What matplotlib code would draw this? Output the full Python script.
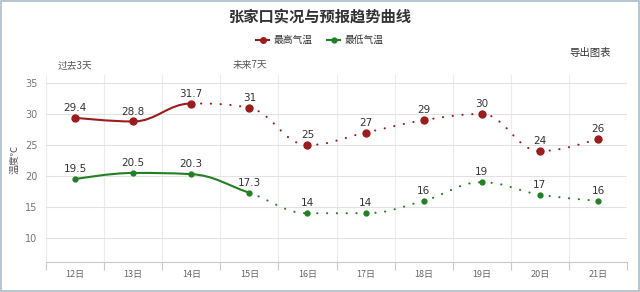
import matplotlib.pyplot as plt
from matplotlib.path import Path
from matplotlib.patches import PathPatch, Rectangle
from matplotlib.lines import Line2D

plt.rcParams['font.family'] = ['Noto Sans CJK SC', 'DejaVu Sans']

days = ['12日', '13日', '14日', '15日', '16日', '17日', '18日', '19日', '20日', '21日']
high = [29.4, 28.8, 31.7, 31, 25, 27, 29, 30, 24, 26]
low = [19.5, 20.5, 20.3, 17.3, 14, 14, 16, 19, 17, 16]
high_labels = ['29.4', '28.8', '31.7', '31', '25', '27', '29', '30', '24', '26']
low_labels = ['19.5', '20.5', '20.3', '17.3', '14', '14', '16', '19', '17', '16']
high_actual = 3   # first 3 points are observed
low_actual = 4

HIGH_C = '#9b1c1c'
LOW_C = '#237f23'


def spline_controls(xs, ys, smoothing=1.5):
    # highcharts-style spline control points
    n = len(xs)
    left = [(xs[i], ys[i]) for i in range(n)]
    right = [(xs[i], ys[i]) for i in range(n)]
    d = smoothing + 1
    for i in range(1, n - 1):
        x, y = xs[i], ys[i]
        lx, ly = xs[i - 1], ys[i - 1]
        nx, ny = xs[i + 1], ys[i + 1]
        lcx = (smoothing * x + lx) / d
        lcy = (smoothing * y + ly) / d
        rcx = (smoothing * x + nx) / d
        rcy = (smoothing * y + ny) / d
        corr = (rcy - lcy) * (rcx - x) / (rcx - lcx) + y - rcy
        lcy += corr
        rcy += corr
        if lcy > ly and lcy > y:
            lcy = max(ly, y); rcy = 2 * y - lcy
        elif lcy < ly and lcy < y:
            lcy = min(ly, y); rcy = 2 * y - lcy
        if rcy > ny and rcy > y:
            rcy = max(ny, y); lcy = 2 * y - rcy
        elif rcy < ny and rcy < y:
            rcy = min(ny, y); lcy = 2 * y - rcy
        left[i] = (lcx, lcy)
        right[i] = (rcx, rcy)
    return left, right


def draw_series(ax, ys, n_solid, color, lw, ms):
    xs = list(range(len(ys)))
    left, right = spline_controls(xs, ys)
    for i in range(len(ys) - 1):
        verts = [(xs[i], ys[i]), right[i], left[i + 1], (xs[i + 1], ys[i + 1])]
        codes = [Path.MOVETO, Path.CURVE4, Path.CURVE4, Path.CURVE4]
        if i < n_solid - 1:
            ax.add_patch(PathPatch(Path(verts, codes), fill=False, edgecolor=color,
                                   lw=lw, capstyle='round', zorder=3))
        else:
            ax.add_patch(PathPatch(Path(verts, codes), fill=False, edgecolor=color,
                                   lw=lw, linestyle=(0, (0.1, 4.6)), capstyle='round', zorder=3))
    ax.plot(xs, ys, 'o', color=color, markersize=ms, zorder=4)


fig = plt.figure(figsize=(6.4, 2.92), dpi=100)
ax = fig.add_axes([46 / 640, 1 - 262 / 292, 581 / 640, 187 / 292])
ax.set_xlim(-0.5, 9.5)
ax.set_ylim(6.13, 36.3)

draw_series(ax, high, high_actual, HIGH_C, 1.5, 5)
draw_series(ax, low, low_actual, LOW_C, 1.5, 3.5)

for i in range(len(days)):
    ax.text(i, high[i] + 0.8, high_labels[i], ha='center', va='bottom', fontsize=7.5,
            color='#333333', family='DejaVu Sans', zorder=5)
    ax.text(i, low[i] + 0.8, low_labels[i], ha='center', va='bottom', fontsize=7.5,
            color='#333333', family='DejaVu Sans', zorder=5)

ax.set_yticks([10, 15, 20, 25, 30, 35])
ax.set_yticklabels(['10', '15', '20', '25', '30', '35'], fontsize=7, color='#777777',
                   family='DejaVu Sans')
ax.set_xticks(range(len(days)))
ax.set_xticklabels(days, fontsize=6.5, color='#666666')
ax.tick_params(axis='x', length=0, pad=6)
ax.tick_params(axis='y', length=0, pad=6)
ax.set_xticks([i - 0.5 for i in range(len(days) + 1)], minor=True)
ax.tick_params(axis='x', which='minor', length=6, color='#c8c8c8', width=0.8)
ax.grid(True, axis='y', color='#e2e2e2', lw=0.8)
ax.grid(True, axis='x', which='minor', color='#ececec', lw=0.8)
ax.set_axisbelow(True)
for s in ['top', 'right', 'left']:
    ax.spines[s].set_visible(False)
ax.spines['bottom'].set_color('#c8c8c8')
ax.set_ylabel('温度℃', fontsize=7, color='#555555')
ax.yaxis.set_label_coords(-0.045, 0.55)

fig.text(0.5, 1 - 17 / 292, '张家口实况与预报趋势曲线', ha='center', va='center',
         fontsize=11, fontweight='bold', color='#333333')
handles = [Line2D([], [], color=HIGH_C, marker='o', markersize=4, lw=1.5),
           Line2D([], [], color=LOW_C, marker='o', markersize=3.5, lw=1.5)]
fig.legend(handles, ['最高气温', '最低气温'], loc='center', bbox_to_anchor=(0.5, 1 - 40 / 292),
           ncol=2, frameon=False, fontsize=7, handlelength=1.3, columnspacing=1.5,
           handletextpad=0.5, labelcolor='#333333')
fig.text(75 / 640, 1 - 65 / 292, '过去3天', ha='center', va='center', fontsize=7, color='#555555')
fig.text(250 / 640, 1 - 65 / 292, '未来7天', ha='center', va='center', fontsize=7, color='#555555')
fig.text(590 / 640, 1 - 53 / 292, '导出图表', ha='center', va='center', fontsize=7.5, color='#333333')

fig.patches.append(Rectangle((0.002, 0.004), 0.996, 0.992, transform=fig.transFigure,
                             fill=False, edgecolor='#a9bccb', lw=1.2))

fig.savefig('out.png', dpi=100)
